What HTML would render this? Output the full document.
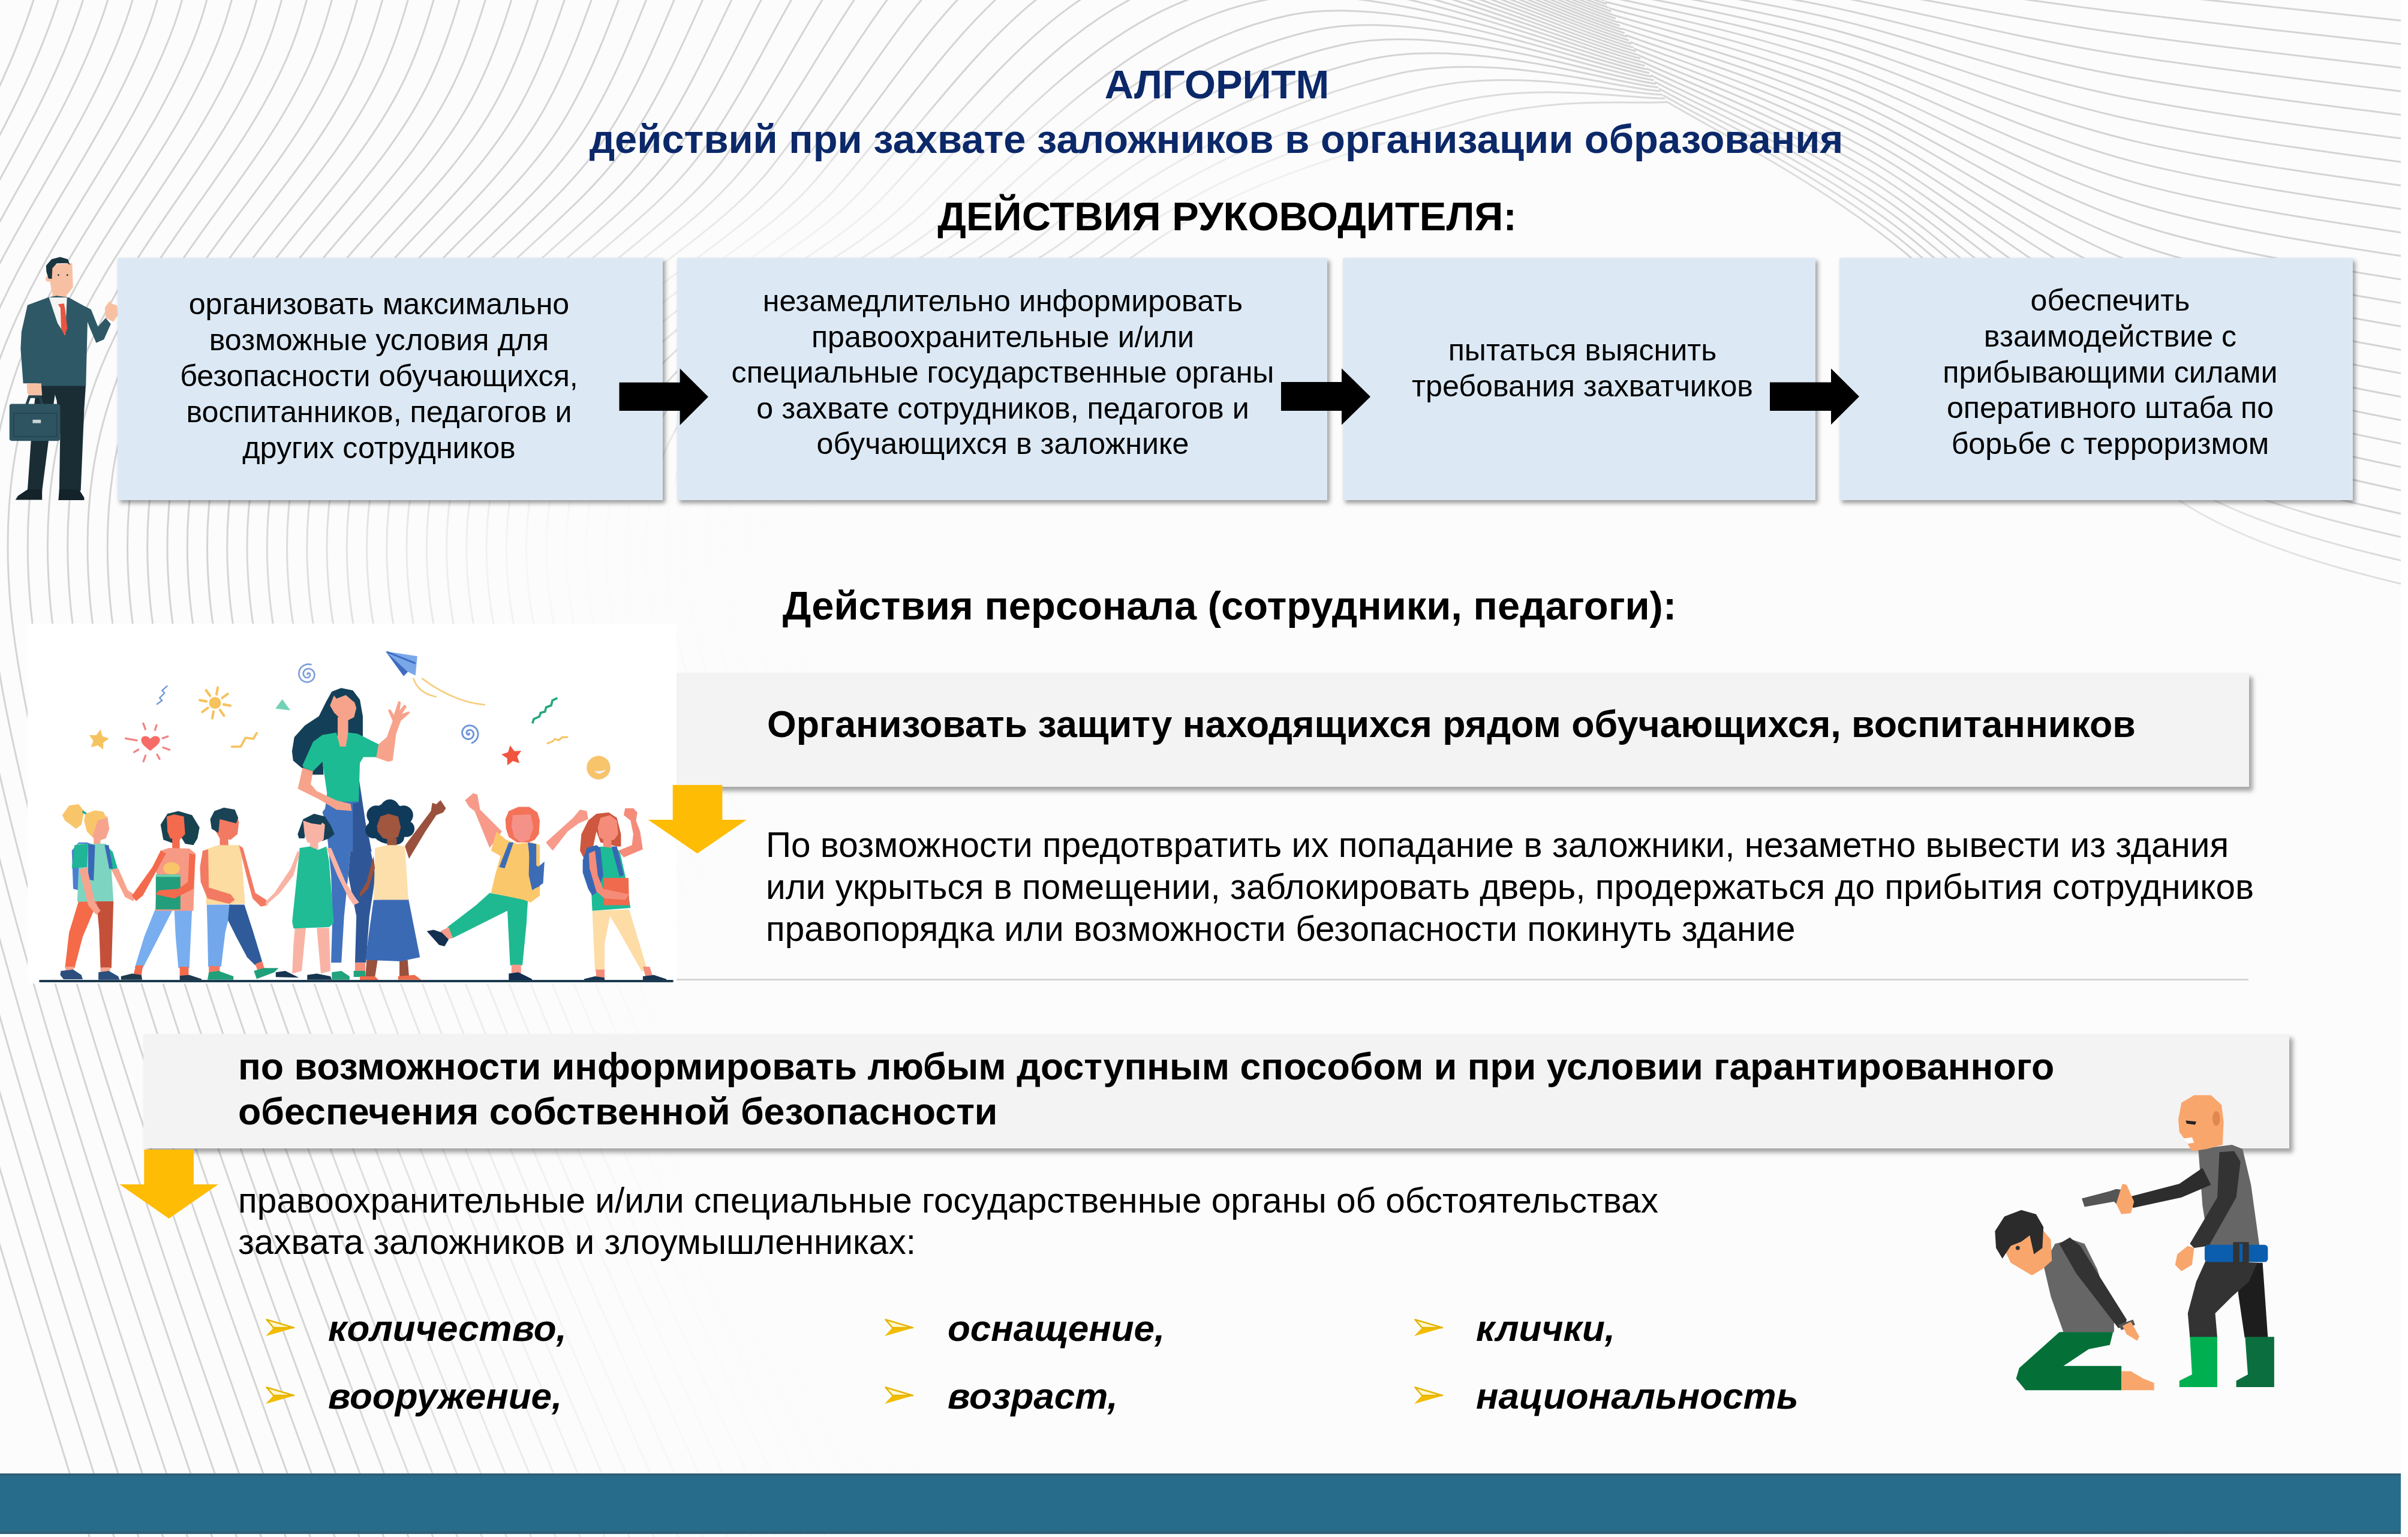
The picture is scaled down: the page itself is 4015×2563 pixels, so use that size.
<!DOCTYPE html>
<html><head><meta charset="utf-8"><style>
html,body{margin:0;padding:0;}
body{width:4015px;height:2563px;position:relative;overflow:hidden;background:#fff;font-family:"Liberation Sans",sans-serif;color:#000;}
.t{position:absolute;white-space:nowrap;}
.r{position:absolute;}
.s{position:absolute;left:0;top:0;}
</style></head><body>
<svg class="s" width="4015" height="2563" viewBox="0 0 4015 2563"><clipPath id="cpbg"><rect x="0" y="0" width="4003" height="2563"/></clipPath><g clip-path="url(#cpbg)"><defs>
<radialGradient id="wm1" cx="2500" cy="1750" r="1" gradientUnits="userSpaceOnUse" gradientTransform="translate(2500 1750) scale(2050 1300) translate(-2500 -1750)">
<stop offset="0" stop-color="#fcfcfc" stop-opacity="1"/><stop offset="0.68" stop-color="#fcfcfc" stop-opacity="1"/><stop offset="0.86" stop-color="#fcfcfc" stop-opacity="0.55"/><stop offset="1" stop-color="#fcfcfc" stop-opacity="0"/></radialGradient>
<radialGradient id="wm2" cx="2250" cy="330" r="1" gradientUnits="userSpaceOnUse" gradientTransform="translate(2250 330) scale(1000 230) translate(-2250 -330)">
<stop offset="0" stop-color="#fcfcfc" stop-opacity="0.9"/><stop offset="1" stop-color="#fcfcfc" stop-opacity="0"/></radialGradient>
<radialGradient id="wm3" cx="1500" cy="940" r="1" gradientUnits="userSpaceOnUse" gradientTransform="translate(1500 940) scale(1150 330) translate(-1500 -940)">
<stop offset="0" stop-color="#fcfcfc" stop-opacity="1"/><stop offset="0.5" stop-color="#fcfcfc" stop-opacity="0.95"/><stop offset="1" stop-color="#fcfcfc" stop-opacity="0"/></radialGradient>
<radialGradient id="wm4" cx="1250" cy="430" r="1" gradientUnits="userSpaceOnUse" gradientTransform="translate(1250 430) rotate(-18) scale(750 190) translate(-1250 -430)">
<stop offset="0" stop-color="#fcfcfc" stop-opacity="0.85"/><stop offset="1" stop-color="#fcfcfc" stop-opacity="0"/></radialGradient>
<radialGradient id="wm5" cx="1550" cy="2350" r="1" gradientUnits="userSpaceOnUse" gradientTransform="translate(1550 2350) scale(1050 520) translate(-1550 -2350)">
<stop offset="0" stop-color="#fcfcfc" stop-opacity="0.95"/><stop offset="0.5" stop-color="#fcfcfc" stop-opacity="0.7"/><stop offset="1" stop-color="#fcfcfc" stop-opacity="0"/></radialGradient>
</defs><rect x="0" y="0" width="4003" height="2557" fill="#fcfcfc"/><g fill="none" stroke="#d4d4d4" stroke-width="3"><path d="M250.0,2900.0 C166.7,2583.3 -217.7,1483.3 -250.0,1000.0 C-282.3,516.7 -52.3,333.3 56.0,0.0 C164.3,-333.3 -24.0,-980.0 400.0,-1000.0 C824.0,-1020.0 2233.3,-266.7 2600.0,-120.0"/><path d="M292.7,2900.0 C207.8,2583.3 -183.6,1481.9 -216.7,1000.0 C-249.7,518.1 -15.5,337.9 94.4,8.8 C204.3,-320.4 24.5,-954.5 442.7,-975.0 C860.9,-995.5 2243.6,-257.5 2603.8,-114.0"/><path d="M335.4,2900.0 C249.0,2583.3 -149.6,1480.4 -183.3,1000.0 C-217.1,519.6 21.4,342.5 132.8,17.5 C244.3,-307.5 73.0,-929.1 485.4,-950.0 C897.9,-970.9 2253.8,-248.3 2607.5,-107.9"/><path d="M378.1,2900.0 C290.1,2583.3 -115.5,1479.0 -150.0,1000.0 C-184.5,521.0 58.2,347.1 171.2,26.2 C284.3,-294.6 121.5,-903.6 528.1,-925.0 C934.8,-946.4 2264.1,-239.1 2611.2,-101.9"/><path d="M420.8,2900.0 C331.2,2583.3 -81.5,1477.5 -116.7,1000.0 C-151.9,522.5 95.1,351.7 209.7,35.0 C324.2,-281.7 169.9,-878.2 570.8,-900.0 C971.7,-921.8 2274.3,-229.9 2615.0,-95.8"/><path d="M463.5,2900.0 C372.4,2583.3 -47.4,1476.0 -83.3,1000.0 C-119.2,524.0 131.9,356.2 248.1,43.8 C364.2,-268.8 218.4,-852.7 613.5,-875.0 C1008.7,-897.3 2284.5,-220.7 2618.8,-89.8"/><path d="M506.2,2900.0 C413.5,2583.3 -13.4,1474.6 -50.0,1000.0 C-86.6,525.4 168.8,360.8 286.5,52.5 C404.2,-255.8 266.9,-827.3 656.2,-850.0 C1045.6,-872.7 2294.8,-211.5 2622.5,-83.8"/><path d="M549.0,2900.0 C454.7,2583.3 20.7,1473.1 -16.7,1000.0 C-54.0,526.9 205.6,365.4 324.9,61.3 C444.2,-242.9 315.4,-801.8 699.0,-825.0 C1082.5,-848.2 2305.0,-202.3 2626.2,-77.7"/><path d="M591.7,2900.0 C495.8,2583.3 54.7,1471.7 16.7,1000.0 C-21.4,528.3 242.5,370.0 363.3,70.0 C484.2,-230.0 363.9,-776.4 741.7,-800.0 C1119.4,-823.6 2315.3,-193.1 2630.0,-71.7"/><path d="M634.4,2900.0 C537.0,2583.3 88.8,1470.2 50.0,1000.0 C11.2,529.8 279.4,374.6 401.8,78.8 C524.1,-217.1 412.4,-750.9 784.4,-775.0 C1156.4,-799.1 2325.5,-183.9 2633.8,-65.6"/><path d="M677.1,2900.0 C578.1,2583.3 122.8,1468.8 83.3,1000.0 C43.8,531.2 316.2,379.2 440.2,87.5 C564.1,-204.2 460.9,-725.5 827.1,-750.0 C1193.3,-774.5 2335.8,-174.7 2637.5,-59.6"/><path d="M719.8,2900.0 C619.3,2583.3 156.9,1467.3 116.7,1000.0 C76.5,532.7 353.1,383.8 478.6,96.2 C604.1,-191.2 509.3,-700.0 869.8,-725.0 C1230.2,-750.0 2346.0,-165.5 2641.2,-53.5"/><path d="M762.5,2900.0 C660.4,2583.3 190.9,1465.8 150.0,1000.0 C109.1,534.2 389.9,388.3 517.0,105.0 C644.1,-178.3 557.8,-674.6 912.5,-700.0 C1267.2,-725.4 2356.2,-156.2 2645.0,-47.5"/><path d="M805.2,2900.0 C701.6,2583.3 225.0,1464.4 183.3,1000.0 C141.7,535.6 426.8,392.9 555.4,113.7 C684.1,-165.4 606.3,-649.1 955.2,-675.0 C1304.1,-700.9 2366.5,-147.0 2648.8,-41.5"/><path d="M847.9,2900.0 C742.7,2583.3 259.0,1462.9 216.7,1000.0 C174.3,537.1 463.6,397.5 593.8,122.5 C724.0,-152.5 654.8,-623.7 997.9,-650.0 C1341.0,-676.3 2376.7,-137.8 2652.5,-35.4"/><path d="M890.6,2900.0 C783.9,2583.3 293.1,1461.5 250.0,1000.0 C206.9,538.5 500.5,402.1 632.2,131.2 C764.0,-139.6 703.3,-598.2 1040.6,-625.0 C1378.0,-651.8 2387.0,-128.6 2656.2,-29.4"/><path d="M933.3,2900.0 C825.0,2583.3 327.1,1460.0 283.3,1000.0 C239.6,540.0 537.3,406.7 670.7,140.0 C804.0,-126.7 751.8,-572.8 1083.3,-600.0 C1414.9,-627.2 2397.2,-119.4 2660.0,-23.3"/><path d="M976.0,2900.0 C866.1,2583.3 361.2,1458.5 316.7,1000.0 C272.2,541.5 574.2,411.2 709.1,148.8 C844.0,-113.8 800.3,-547.3 1126.0,-575.0 C1451.8,-602.7 2407.5,-110.2 2663.8,-17.3"/><path d="M1018.8,2900.0 C907.3,2583.3 395.2,1457.1 350.0,1000.0 C304.8,542.9 611.0,415.8 747.5,157.5 C884.0,-100.8 848.8,-521.9 1168.8,-550.0 C1488.8,-578.1 2417.7,-101.0 2667.5,-11.2"/><path d="M1061.5,2900.0 C948.4,2583.3 429.3,1455.6 383.3,1000.0 C337.4,544.4 647.9,420.4 785.9,166.2 C923.9,-87.9 897.2,-496.4 1211.5,-525.0 C1525.7,-553.6 2428.0,-91.8 2671.2,-5.2"/><path d="M1104.2,2900.0 C989.6,2583.3 463.3,1454.2 416.7,1000.0 C370.0,545.8 684.8,425.0 824.3,175.0 C963.9,-75.0 945.7,-471.0 1254.2,-500.0 C1562.6,-529.0 2438.2,-82.6 2675.0,0.8"/><path d="M1146.9,2900.0 C1030.7,2583.3 497.4,1452.7 450.0,1000.0 C402.6,547.3 721.6,429.6 862.8,183.8 C1003.9,-62.1 994.2,-445.5 1296.9,-475.0 C1599.5,-504.5 2448.4,-73.4 2678.8,6.9"/><path d="M1189.6,2900.0 C1071.9,2583.3 531.4,1451.2 483.3,1000.0 C435.3,548.8 758.5,434.2 901.2,192.5 C1043.9,-49.2 1042.7,-420.1 1339.6,-450.0 C1636.5,-479.9 2458.7,-64.2 2682.5,12.9"/><path d="M1232.3,2900.0 C1113.0,2583.3 565.5,1449.8 516.7,1000.0 C467.9,550.2 795.3,438.8 939.6,201.2 C1083.9,-36.2 1091.2,-394.6 1382.3,-425.0 C1673.4,-455.4 2468.9,-55.0 2686.2,19.0"/><path d="M1275.0,2900.0 C1154.2,2583.3 599.5,1448.3 550.0,1000.0 C500.5,551.7 832.2,443.3 978.0,210.0 C1123.8,-23.3 1139.7,-369.2 1425.0,-400.0 C1710.3,-430.8 2479.2,-45.8 2690.0,25.0"/><path d="M1317.7,2900.0 C1195.3,2583.3 633.5,1446.9 583.3,1000.0 C533.1,553.1 869.0,447.9 1016.4,218.8 C1163.8,-10.4 1188.2,-343.7 1467.7,-375.0 C1747.3,-406.3 2489.4,-36.6 2693.8,31.0"/><path d="M1360.4,2900.0 C1236.5,2583.3 667.6,1445.4 616.7,1000.0 C565.7,554.6 905.9,452.5 1054.8,227.5 C1203.8,2.5 1236.6,-318.3 1510.4,-350.0 C1784.2,-381.7 2499.7,-27.4 2697.5,37.1"/><path d="M1403.1,2900.0 C1277.6,2583.3 701.6,1444.0 650.0,1000.0 C598.4,556.0 942.7,457.1 1093.2,236.2 C1243.8,15.4 1285.1,-292.8 1553.1,-325.0 C1821.1,-357.2 2509.9,-18.2 2701.2,43.1"/><path d="M1445.8,2900.0 C1318.8,2583.3 735.7,1442.5 683.3,1000.0 C631.0,557.5 979.6,461.7 1131.7,245.0 C1283.8,28.3 1333.6,-267.4 1595.8,-300.0 C1858.1,-332.6 2520.1,-9.0 2705.0,49.2"/><path d="M1488.5,2900.0 C1359.9,2583.3 769.7,1441.0 716.7,1000.0 C663.6,559.0 1016.4,466.2 1170.1,253.7 C1323.7,41.2 1382.1,-241.9 1638.5,-275.0 C1895.0,-308.1 2530.4,0.2 2708.8,55.2"/><path d="M1531.2,2900.0 C1401.0,2583.3 803.8,1439.6 750.0,1000.0 C696.2,560.4 1053.3,470.8 1208.5,262.5 C1363.7,54.2 1430.6,-216.5 1681.2,-250.0 C1931.9,-283.5 2540.6,9.4 2712.5,61.2"/><path d="M1574.0,2900.0 C1442.2,2583.3 837.8,1438.1 783.3,1000.0 C728.8,561.9 1090.1,475.4 1246.9,271.2 C1403.7,67.1 1479.1,-191.0 1724.0,-225.0 C1968.8,-259.0 2550.9,18.6 2716.2,67.3"/><path d="M1616.7,2900.0 C1483.3,2583.3 871.9,1436.7 816.7,1000.0 C761.4,563.3 1127.0,480.0 1285.3,280.0 C1443.7,80.0 1527.6,-165.6 1766.7,-200.0 C2005.8,-234.4 2561.1,27.8 2720.0,73.3"/><path d="M1659.4,2900.0 C1524.5,2583.3 905.9,1435.2 850.0,1000.0 C794.1,564.8 1163.9,484.6 1323.8,288.8 C1483.6,92.9 1576.0,-140.1 1809.4,-175.0 C2042.7,-209.9 2571.4,37.0 2723.8,79.4"/><path d="M1702.1,2900.0 C1565.6,2583.3 940.0,1433.8 883.3,1000.0 C826.7,566.2 1200.7,489.2 1362.2,297.5 C1523.6,105.8 1624.5,-114.7 1852.1,-150.0 C2079.6,-185.3 2581.6,46.2 2727.5,85.4"/><path d="M1744.8,2900.0 C1606.8,2583.3 974.0,1432.3 916.7,1000.0 C859.3,567.7 1237.6,493.8 1400.6,306.2 C1563.6,118.8 1673.0,-89.2 1894.8,-125.0 C2116.6,-160.8 2591.8,55.4 2731.2,91.5"/><path d="M1787.5,2900.0 C1647.9,2583.3 1008.1,1430.8 950.0,1000.0 C891.9,569.2 1274.4,498.3 1439.0,315.0 C1603.6,131.7 1721.5,-63.8 1937.5,-100.0 C2153.5,-136.2 2602.1,64.6 2735.0,97.5"/><path d="M1830.2,2900.0 C1689.1,2583.3 1042.1,1429.4 983.3,1000.0 C924.5,570.6 1311.3,502.9 1477.4,323.8 C1643.6,144.6 1770.0,-38.3 1980.2,-75.0 C2190.4,-111.7 2612.3,73.8 2738.8,103.5"/><path d="M1872.9,2900.0 C1730.2,2583.3 1076.2,1427.9 1016.7,1000.0 C957.2,572.1 1348.1,507.5 1515.8,332.5 C1683.5,157.5 1818.5,-12.8 2022.9,-50.0 C2227.4,-87.2 2622.6,83.0 2742.5,109.6"/><path d="M1915.6,2900.0 C1771.4,2583.3 1110.2,1426.5 1050.0,1000.0 C989.8,573.5 1385.0,512.1 1554.2,341.2 C1723.5,170.4 1867.0,12.6 2065.6,-25.0 C2264.3,-62.6 2632.8,92.2 2746.2,115.6"/><path d="M1958.3,2900.0 C1812.5,2583.3 1144.3,1425.0 1083.3,1000.0 C1022.4,575.0 1421.8,516.7 1592.7,350.0 C1763.5,183.3 1915.4,38.1 2108.3,0.0 C2301.2,-38.1 2643.1,101.4 2750.0,121.7"/><path d="M2001.0,2900.0 C1853.6,2583.3 1178.3,1423.5 1116.7,1000.0 C1055.0,576.5 1458.7,521.2 1631.1,358.8 C1803.5,196.2 1963.9,63.5 2151.0,25.0 C2338.2,-13.5 2653.3,110.6 2753.8,127.7"/><path d="M2043.8,2900.0 C1894.8,2583.3 1212.4,1422.1 1150.0,1000.0 C1087.6,577.9 1495.5,525.8 1669.5,367.5 C1843.5,209.2 2012.4,89.0 2193.8,50.0 C2375.1,11.0 2663.5,119.8 2757.5,133.8"/><path d="M2086.5,2900.0 C1935.9,2583.3 1246.4,1420.6 1183.3,1000.0 C1120.2,579.4 1532.4,530.4 1707.9,376.2 C1883.4,222.1 2060.9,114.4 2236.5,75.0 C2412.0,35.6 2673.8,129.0 2761.2,139.8"/><path d="M2129.2,2900.0 C1977.1,2583.3 1280.5,1419.2 1216.7,1000.0 C1152.9,580.8 1569.2,535.0 1746.3,385.0 C1923.4,235.0 2109.4,139.9 2279.2,100.0 C2448.9,60.1 2684.0,138.2 2765.0,145.8"/><path d="M2171.9,2900.0 C2018.2,2583.3 1314.5,1417.7 1250.0,1000.0 C1185.5,582.3 1606.1,539.6 1784.8,393.8 C1963.4,247.9 2157.9,165.3 2321.9,125.0 C2485.9,84.7 2694.3,147.4 2768.8,151.9"/><path d="M2214.6,2900.0 C2059.4,2583.3 1348.6,1416.2 1283.3,1000.0 C1218.1,583.8 1643.0,544.2 1823.2,402.5 C2003.4,260.8 2206.4,190.8 2364.6,150.0 C2522.8,109.2 2704.5,156.6 2772.5,157.9"/><path d="M2257.3,2900.0 C2100.5,2583.3 1382.6,1414.8 1316.7,1000.0 C1250.7,585.2 1679.8,548.8 1861.6,411.2 C2043.4,273.8 2254.8,216.2 2407.3,175.0 C2559.7,133.8 2714.8,165.8 2776.2,164.0"/><path d="M2300.0,2900.0 C2141.7,2583.3 1416.7,1413.3 1350.0,1000.0 C1283.3,586.7 1716.7,553.3 1900.0,420.0 C2083.3,286.7 2303.3,241.7 2450.0,200.0 C2596.7,158.3 2725.0,175.0 2780.0,170.0"/><path d="M2600.0,-120.0 C2666.7,-118.3 2850.0,-115.0 3000.0,-110.0 C3150.0,-105.0 3308.3,-103.3 3500.0,-90.0 C3691.7,-76.7 4041.7,-40.0 4150.0,-30.0"/><path d="M2606.9,-108.8 C2673.4,-105.8 2856.0,-99.5 3005.8,-90.4 C3155.6,-81.2 3315.1,-70.8 3505.8,-54.0 C3696.5,-37.3 4042.6,-0.7 4150.0,10.0"/><path d="M2613.8,-97.7 C2680.1,-93.2 2861.9,-84.0 3011.5,-70.8 C3161.2,-57.5 3321.8,-38.2 3511.5,-18.1 C3701.3,2.1 4043.6,38.7 4150.0,50.0"/><path d="M2620.8,-86.5 C2686.9,-80.6 2867.9,-68.6 3017.3,-51.2 C3166.7,-33.8 3328.5,-5.6 3517.3,17.9 C3706.1,41.4 4044.6,78.0 4150.0,90.0"/><path d="M2627.7,-75.4 C2693.6,-68.1 2873.8,-53.1 3023.1,-31.5 C3172.3,-10.0 3335.3,26.9 3523.1,53.8 C3710.9,80.8 4045.5,117.3 4150.0,130.0"/><path d="M2634.6,-64.2 C2700.3,-55.5 2879.8,-37.6 3028.8,-11.9 C3177.9,13.8 3342.0,59.5 3528.8,89.8 C3715.7,120.1 4046.5,156.6 4150.0,170.0"/><path d="M2641.5,-53.1 C2707.1,-42.9 2885.8,-22.1 3034.6,7.7 C3183.5,37.5 3348.7,92.1 3534.6,125.8 C3720.5,159.5 4047.4,196.0 4150.0,210.0"/><path d="M2648.5,-41.9 C2713.8,-30.4 2891.7,-6.6 3040.4,27.3 C3189.0,61.2 3355.4,124.6 3540.4,161.7 C3725.3,198.8 4048.4,235.3 4150.0,250.0"/><path d="M2655.4,-30.8 C2720.5,-17.8 2897.7,8.8 3046.2,46.9 C3194.6,85.0 3362.2,157.2 3546.2,197.7 C3730.1,238.2 4049.4,274.6 4150.0,290.0"/><path d="M2662.3,-19.6 C2727.2,-5.3 2903.7,24.3 3051.9,66.5 C3200.2,108.8 3368.9,189.7 3551.9,233.7 C3734.9,277.6 4050.3,313.9 4150.0,330.0"/><path d="M2669.2,-8.5 C2734.0,7.3 2909.6,39.8 3057.7,86.2 C3205.8,132.5 3375.6,222.3 3557.7,269.6 C3739.7,316.9 4051.3,353.3 4150.0,370.0"/><path d="M2676.2,2.7 C2740.7,19.9 2915.6,55.3 3063.5,105.8 C3211.3,156.2 3382.4,254.9 3563.5,305.6 C3744.6,356.3 4052.2,392.6 4150.0,410.0"/><path d="M2683.1,13.8 C2747.4,32.4 2921.5,70.8 3069.2,125.4 C3216.9,180.0 3389.1,287.4 3569.2,341.5 C3749.4,395.6 4053.2,431.9 4150.0,450.0"/><path d="M2690.0,25.0 C2754.2,45.0 2927.5,86.2 3075.0,145.0 C3222.5,203.8 3395.8,320.0 3575.0,377.5 C3754.2,435.0 4054.2,471.2 4150.0,490.0"/><path d="M2696.9,36.2 C2760.9,57.6 2933.5,101.7 3080.8,164.6 C3228.1,227.5 3402.6,352.6 3580.8,413.5 C3759.0,474.4 4055.1,510.6 4150.0,530.0"/><path d="M2703.8,47.3 C2767.6,70.1 2939.4,117.2 3086.5,184.2 C3233.7,251.2 3409.3,385.1 3586.5,449.4 C3763.8,513.7 4056.1,549.9 4150.0,570.0"/><path d="M2710.8,58.5 C2774.4,82.7 2945.4,132.7 3092.3,203.8 C3239.2,275.0 3416.0,417.7 3592.3,485.4 C3768.6,553.1 4057.1,589.2 4150.0,610.0"/><path d="M2717.7,69.6 C2781.1,95.3 2951.3,148.2 3098.1,223.5 C3244.8,298.8 3422.8,450.3 3598.1,521.3 C3773.4,592.4 4058.0,628.6 4150.0,650.0"/><path d="M2724.6,80.8 C2787.8,107.8 2957.3,163.7 3103.8,243.1 C3250.4,322.5 3429.5,482.8 3603.8,557.3 C3778.2,631.8 4059.0,667.9 4150.0,690.0"/><path d="M2731.5,91.9 C2794.6,120.4 2963.3,179.1 3109.6,262.7 C3256.0,346.2 3436.2,515.4 3609.6,593.3 C3783.0,671.2 4059.9,707.2 4150.0,730.0"/><path d="M2738.5,103.1 C2801.3,132.9 2969.2,194.6 3115.4,282.3 C3261.5,370.0 3442.9,547.9 3615.4,629.2 C3787.8,710.5 4060.9,746.5 4150.0,770.0"/><path d="M2745.4,114.2 C2808.0,145.5 2975.2,210.1 3121.2,301.9 C3267.1,393.8 3449.7,580.5 3621.2,665.2 C3792.6,749.9 4061.9,785.9 4150.0,810.0"/><path d="M2752.3,125.4 C2814.7,158.1 2981.2,225.6 3126.9,321.5 C3272.7,417.5 3456.4,613.1 3626.9,701.2 C3797.4,789.2 4062.8,825.2 4150.0,850.0"/><path d="M2759.2,136.5 C2821.5,170.6 2987.1,241.1 3132.7,341.2 C3278.3,441.2 3463.1,645.6 3632.7,737.1 C3802.2,828.6 4063.8,864.5 4150.0,890.0"/><path d="M2766.2,147.7 C2828.2,183.2 2993.1,256.5 3138.5,360.8 C3283.8,465.0 3469.9,678.2 3638.5,773.1 C3807.1,867.9 4064.7,903.8 4150.0,930.0"/><path d="M2773.1,158.8 C2834.9,195.8 2999.0,272.0 3144.2,380.4 C3289.4,488.8 3476.6,710.8 3644.2,809.0 C3811.9,907.3 4065.7,943.2 4150.0,970.0"/><path d="M2780.0,170.0 C2841.7,208.3 3005.0,287.5 3150.0,400.0 C3295.0,512.5 3483.3,743.3 3650.0,845.0 C3816.7,946.7 4066.7,982.5 4150.0,1010.0"/></g><rect x="0" y="0" width="4015" height="2563" fill="url(#wm1)"/><rect x="0" y="0" width="4015" height="2563" fill="url(#wm2)"/><rect x="0" y="0" width="4015" height="2563" fill="url(#wm3)"/><rect x="0" y="0" width="4015" height="2563" fill="url(#wm4)"/><rect x="0" y="0" width="4015" height="2563" fill="url(#wm5)"/></g></svg>
<div class="t" style="top:108.4px;font-size:66.9px;line-height:66.9px;font-weight:700;color:#0b2869;left:529.0px;width:3000px;text-align:center;">АЛГОРИТМ</div><div class="t" style="top:199.4px;font-size:66.9px;line-height:66.9px;font-weight:700;color:#0b2869;left:528.0px;width:3000px;text-align:center;">действий при захвате заложников в организации образования</div><div class="t" style="top:328.4px;font-size:66.9px;line-height:66.9px;font-weight:700;left:546.0px;width:3000px;text-align:center;">ДЕЙСТВИЯ РУКОВОДИТЕЛЯ:</div><div class="r" style="left:196px;top:430px;width:909px;height:404px;background:#dce9f5;box-shadow:4px 5px 7px rgba(40,40,40,0.45);"></div><div class="r" style="left:1129px;top:430px;width:1084px;height:404px;background:#dce9f5;box-shadow:4px 5px 7px rgba(40,40,40,0.45);"></div><div class="r" style="left:2239px;top:430px;width:788px;height:404px;background:#dce9f5;box-shadow:4px 5px 7px rgba(40,40,40,0.45);"></div><div class="r" style="left:3067px;top:430px;width:856px;height:404px;background:#dce9f5;box-shadow:4px 5px 7px rgba(40,40,40,0.45);"></div><div class="t" style="top:481.5px;font-size:50.2px;line-height:50.2px;left:-868.0px;width:3000px;text-align:center;">организовать максимально</div><div class="t" style="top:541.5px;font-size:50.2px;line-height:50.2px;left:-868.0px;width:3000px;text-align:center;">возможные условия для</div><div class="t" style="top:601.5px;font-size:50.2px;line-height:50.2px;left:-868.0px;width:3000px;text-align:center;">безопасности обучающихся,</div><div class="t" style="top:661.5px;font-size:50.2px;line-height:50.2px;left:-868.0px;width:3000px;text-align:center;">воспитанников, педагогов и</div><div class="t" style="top:721.5px;font-size:50.2px;line-height:50.2px;left:-868.0px;width:3000px;text-align:center;">других сотрудников</div><div class="t" style="top:477.0px;font-size:50.2px;line-height:50.2px;left:172.0px;width:3000px;text-align:center;">незамедлительно информировать</div><div class="t" style="top:536.6px;font-size:50.2px;line-height:50.2px;left:172.0px;width:3000px;text-align:center;">правоохранительные и/или</div><div class="t" style="top:596.2px;font-size:50.2px;line-height:50.2px;left:172.0px;width:3000px;text-align:center;">специальные государственные органы</div><div class="t" style="top:655.8px;font-size:50.2px;line-height:50.2px;left:172.0px;width:3000px;text-align:center;">о захвате сотрудников, педагогов и</div><div class="t" style="top:715.4px;font-size:50.2px;line-height:50.2px;left:172.0px;width:3000px;text-align:center;">обучающихся в заложнике</div><div class="t" style="top:559.0px;font-size:50.2px;line-height:50.2px;left:1138.5px;width:3000px;text-align:center;">пытаться выяснить</div><div class="t" style="top:618.6px;font-size:50.2px;line-height:50.2px;left:1138.5px;width:3000px;text-align:center;">требования захватчиков</div><div class="t" style="top:476.0px;font-size:50.2px;line-height:50.2px;left:2018.5px;width:3000px;text-align:center;">обеспечить</div><div class="t" style="top:535.8px;font-size:50.2px;line-height:50.2px;left:2018.5px;width:3000px;text-align:center;">взаимодействие с</div><div class="t" style="top:595.6px;font-size:50.2px;line-height:50.2px;left:2018.5px;width:3000px;text-align:center;">прибывающими силами</div><div class="t" style="top:655.4px;font-size:50.2px;line-height:50.2px;left:2018.5px;width:3000px;text-align:center;">оперативного штаба по</div><div class="t" style="top:715.2px;font-size:50.2px;line-height:50.2px;left:2018.5px;width:3000px;text-align:center;">борьбе с терроризмом</div><div class="t" style="top:976.9px;font-size:66.9px;line-height:66.9px;font-weight:700;left:550.0px;width:3000px;text-align:center;">Действия персонала (сотрудники, педагоги):</div><div class="r" style="left:1127px;top:1122px;width:2623px;height:190px;background:#f3f3f3;box-shadow:6px 7px 7px rgba(60,60,60,0.45);"></div><div class="t" style="top:1176.4px;font-size:62.7px;line-height:62.7px;font-weight:700;left:1279.0px;">Организовать защиту находящихся рядом обучающихся, воспитанников</div><div class="t" style="top:1379.5px;font-size:58.5px;line-height:58.5px;left:1277.0px;">По возможности предотвратить их попадание в заложники, незаметно вывести из здания</div><div class="t" style="top:1449.5px;font-size:58.5px;line-height:58.5px;left:1277.0px;">или укрыться в помещении, заблокировать дверь, продержаться до прибытия сотрудников</div><div class="t" style="top:1519.5px;font-size:58.5px;line-height:58.5px;left:1277.0px;">правопорядка или возможности безопасности покинуть здание</div><div class="r" style="left:1121px;top:1632px;width:2628px;height:3px;background:#d6d6d6;"></div><div class="r" style="left:239px;top:1724px;width:3578px;height:191px;background:#f3f3f3;box-shadow:6px 7px 7px rgba(60,60,60,0.45);"></div><div class="t" style="top:1747.4px;font-size:62.7px;line-height:62.7px;font-weight:700;left:397.0px;">по возможности информировать любым доступным способом и при условии гарантированного</div><div class="t" style="top:1822.4px;font-size:62.7px;line-height:62.7px;font-weight:700;left:397.0px;">обеспечения собственной безопасности</div><div class="t" style="top:1972.5px;font-size:58.5px;line-height:58.5px;left:397.0px;">правоохранительные и/или специальные государственные органы об обстоятельствах</div><div class="t" style="top:2041.5px;font-size:58.5px;line-height:58.5px;left:397.0px;">захвата заложников и злоумышленниках:</div><div class="t" style="top:2183.5px;font-size:62px;line-height:62px;font-weight:700;font-style:italic;left:547.0px;">количество,</div><div class="t" style="top:2296.5px;font-size:62px;line-height:62px;font-weight:700;font-style:italic;left:547.0px;">вооружение,</div><div class="t" style="top:2183.5px;font-size:62px;line-height:62px;font-weight:700;font-style:italic;left:1580.0px;">оснащение,</div><div class="t" style="top:2296.5px;font-size:62px;line-height:62px;font-weight:700;font-style:italic;left:1580.0px;">возраст,</div><div class="t" style="top:2183.5px;font-size:62px;line-height:62px;font-weight:700;font-style:italic;left:2461.0px;">клички,</div><div class="t" style="top:2296.5px;font-size:62px;line-height:62px;font-weight:700;font-style:italic;left:2461.0px;">национальность</div><div class="r" style="left:0px;top:2457px;width:4003px;height:101px;background:#276d8b;border-top:4px solid #2f5e77;border-bottom:5px solid #32607a;box-sizing:border-box;"></div>
<svg class="s" width="4015" height="2563" viewBox="0 0 4015 2563"><rect x="46" y="1040" width="1082" height="600" fill="#ffffff"/><g transform="translate(100,1060) scale(0.207641)"><polyline points="780,550 820,520 800,500 840,460 820,440 860,405" fill="none" stroke="#6d95d8" stroke-width="11" stroke-linejoin="round" stroke-linecap="round"/><circle cx="1245" cy="540" r="48" fill="#f6c25e"/><g stroke="#f6c25e" stroke-width="20" stroke-linecap="round"><line x1="1314" y1="552" x2="1368" y2="562"/><line x1="1285" y1="597" x2="1317" y2="642"/><line x1="1233" y1="609" x2="1223" y2="663"/><line x1="1188" y1="580" x2="1143" y2="612"/><line x1="1176" y1="528" x2="1122" y2="518"/><line x1="1205" y1="483" x2="1173" y2="438"/><line x1="1257" y1="471" x2="1267" y2="417"/><line x1="1302" y1="500" x2="1347" y2="468"/></g><polygon points="1730,585 1785,510 1850,600" fill="#72d1b6" /><polyline points="1990.0,310.0 1989.4,309.9 1988.8,309.8 1988.3,309.4 1987.8,309.0 1987.4,308.5 1987.1,307.9 1986.9,307.2 1986.8,306.5 1986.9,305.7 1987.0,304.9 1987.3,304.0 1987.8,303.2 1988.4,302.4 1989.1,301.7 1990.0,301.1 1991.0,300.5 1992.1,300.1 1993.3,299.8 1994.6,299.7 1995.9,299.7 1997.3,299.9 1998.7,300.3 2000.2,300.9 2001.5,301.6 2002.9,302.6 2004.1,303.7 2005.3,305.0 2006.3,306.5 2007.1,308.2 2007.8,310.0 2008.3,311.9 2008.6,314.0 2008.6,316.1 2008.5,318.2 2008.0,320.4 2007.3,322.6 2006.3,324.7 2005.1,326.8 2003.6,328.7 2001.9,330.6 1999.9,332.3 1997.7,333.7 1995.3,335.0 1992.7,336.0 1990.0,336.7 1987.1,337.2 1984.2,337.3 1981.2,337.1 1978.2,336.6 1975.1,335.7 1972.2,334.5 1969.3,333.0 1966.6,331.1 1964.0,328.9 1961.7,326.3 1959.6,323.5 1957.8,320.5 1956.3,317.2 1955.1,313.7 1954.3,310.0 1954.0,306.2 1954.0,302.3 1954.4,298.4 1955.3,294.5 1956.6,290.7 1958.3,286.9 1960.4,283.4 1963.0,280.0 1965.9,276.8 1969.2,274.0 1972.8,271.5 1976.8,269.3 1981.0,267.6 1985.4,266.3 1990.0,265.4 1994.7,265.1 1999.5,265.2 2004.3,265.9 2009.1,267.1 2013.8,268.8 2018.3,271.1 2022.6,273.8 2026.7,277.0 2030.4,280.7 2033.7,284.7 2036.7,289.2 2039.2,294.0 2041.1,299.1 2042.6,304.5 2043.5,310.0 2043.8,315.7 2043.5,321.4 2042.6,327.1 2041.0,332.7 2038.9,338.2 2036.1,343.5 2032.8,348.6 2029.0,353.3 2024.6,357.6 2019.7,361.5 2014.4,364.8 2008.7,367.6 2002.7,369.9 1996.5,371.5 1990.0,372.4 1983.4,372.6 1976.8,372.2 1970.2,371.0 1963.7,369.2 1957.3,366.6 1951.2,363.4 1945.5,359.5 1940.1,354.9 1935.2,349.8 1930.8,344.2 1927.0,338.0 1923.9,331.5 1921.4,324.6 1919.7,317.4 1918.7,310.0 1918.5,302.5 1919.1,294.9 1920.5,287.4 1922.7,280.0 1925.7,272.9 1929.4,266.0 1933.9,259.5 1939.1,253.5 1944.9,248.0 1951.4,243.1 1958.3,238.9 1965.8,235.4 1973.6,232.7 1981.7,230.8 1990.0,229.8 1998.4,229.6 2006.9,230.4 2015.3,232.0" fill="none" stroke="#7f9fdc" stroke-width="13" stroke-linecap="round"/><polygon points="325,754 341,808 394,826 348,858 347,914 303,880 249,897 268,844 235,798 291,800" fill="#f6c25e" stroke-linejoin="round"/><path d="M725,925 C690,895 650,870 652,835 C655,800 705,795 725,830 C745,795 800,800 803,835 C805,870 760,895 725,925Z" fill="#f56d66"/><g stroke="#f08585" stroke-width="16" stroke-linecap="round"><line x1="686" y1="752" x2="669" y2="705"/><line x1="763" y1="757" x2="776" y2="719"/><line x1="824" y1="824" x2="866" y2="809"/><line x1="828" y1="898" x2="880" y2="916"/><line x1="780" y1="955" x2="800" y2="990"/><line x1="687" y1="963" x2="670" y2="1010"/><line x1="630" y1="915" x2="595" y2="935"/><line x1="617" y1="841" x2="528" y2="825"/></g><polyline points="1380,892 1452,890 1490,820 1552,828 1580,782" fill="none" stroke="#f6c25e" stroke-width="18" stroke-linejoin="round" stroke-linecap="round"/></g><g transform="translate(620,1060) scale(0.207641)"><polygon points="110,125 365,165 350,320 290,290" fill="#7aa7e8" /><polygon points="110,125 290,290 255,325" fill="#3d6cc0" /><line x1="120" y1="130" x2="350" y2="222" stroke="#3d6cc0" stroke-width="14"/><path d="M335,345 Q370,460 515,490" fill="none" stroke="#f6cd7e" stroke-width="13" stroke-linecap="round"/><path d="M405,345 Q650,530 905,555" fill="none" stroke="#f6cd7e" stroke-width="13" stroke-linecap="round"/><polyline points="780.0,785.0 780.6,785.1 781.2,785.3 781.7,785.6 782.2,786.0 782.6,786.5 782.9,787.1 783.2,787.8 783.2,788.6 783.2,789.4 783.0,790.2 782.7,791.1 782.2,791.9 781.6,792.7 780.9,793.4 780.0,794.1 779.0,794.6 777.9,795.1 776.6,795.4 775.3,795.5 773.9,795.5 772.5,795.3 771.1,794.9 769.6,794.3 768.2,793.5 766.9,792.6 765.6,791.4 764.4,790.1 763.4,788.5 762.5,786.8 761.8,785.0 761.3,783.0 761.0,781.0 761.0,778.8 761.2,776.6 761.6,774.4 762.3,772.2 763.3,770.0 764.6,767.9 766.1,765.9 767.9,764.0 769.9,762.3 772.1,760.8 774.6,759.5 777.2,758.5 780.0,757.7 782.9,757.3 785.9,757.1 789.0,757.3 792.1,757.9 795.2,758.8 798.2,760.0 801.1,761.6 803.9,763.5 806.5,765.8 808.9,768.3 811.0,771.2 812.9,774.3 814.4,777.7 815.6,781.3 816.4,785.0 816.8,788.9 816.8,792.8 816.3,796.8 815.4,800.8 814.1,804.7 812.4,808.5 810.2,812.2 807.6,815.6 804.6,818.8 801.2,821.7 797.5,824.3 793.5,826.5 789.2,828.3 784.7,829.6 780.0,830.5 775.2,830.8 770.3,830.6 765.4,830.0 760.5,828.7 755.8,827.0 751.1,824.7 746.7,821.9 742.6,818.7 738.8,814.9 735.4,810.8 732.4,806.2 729.9,801.3 727.8,796.1 726.4,790.6 725.5,785.0 725.2,779.2 725.5,773.4 726.4,767.6 728.0,761.8 730.1,756.2 732.9,750.8 736.3,745.7 740.3,740.9 744.7,736.5 749.7,732.5 755.1,729.1 760.9,726.2 767.0,723.9 773.4,722.3 780.0,721.4 786.7,721.1 793.5,721.6 800.2,722.7 806.9,724.7 813.3,727.3 819.5,730.6 825.4,734.6 830.9,739.2 835.9,744.4 840.4,750.2 844.2,756.4 847.4,763.1 850.0,770.1 851.7,777.5 852.7,785.0 852.9,792.7 852.3,800.4 850.9,808.0 848.7,815.6 845.6,822.9 841.8,829.9 837.2,836.5 831.9,842.7 826.0,848.3 819.4,853.2 812.3,857.5 804.7,861.1" fill="none" stroke="#6d95d8" stroke-width="14" stroke-linecap="round"/><polyline points="1290,705 1300,670 1345,650 1355,620 1390,610 1400,575 1440,560 1450,520 1490,500" fill="none" stroke="#27a880" stroke-width="18" stroke-linejoin="miter"/><polygon points="1110,881 1144,927 1200,925 1167,971 1186,1024 1132,1007 1088,1041 1087,985 1041,953 1094,935" fill="#f0553e" stroke-linejoin="round"/><polyline points="1410,865 1450,850 1470,830 1500,840 1530,815 1570,815" fill="none" stroke="#f6c25e" stroke-width="14" stroke-linejoin="round" stroke-linecap="round"/><circle cx="1820" cy="1060" r="95" fill="#f7c46b"/><path d="M1785,1085 Q1830,1135 1880,1075 Q1830,1095 1785,1085Z" fill="#eef0f8"/></g><g transform="translate(330,1300) scale(0.227790)"><polygon points="958,0 1135,0 1125,400 1100,700 1070,1000 1050,1340 975,1340 985,1000 975,700 950,450 925,250 940,150" fill="#4172bd" /><polygon points="1132,0 1180,0 1240,400 1300,700 1255,1000 1230,1340 1150,1340 1160,1000 1100,700 1125,400" fill="#2f5798" /><polygon points="1150,1340 1225,1340 1225,1405 1150,1405" fill="#f58f7b" /><polygon points="1140,1400 1225,1400 1225,1445 1140,1445" fill="#22a37d" /><polygon points="980,1410 1050,1400 1110,1440 1110,1465 980,1465" fill="#22a37d" /></g><g transform="translate(440,1120) scale(0.195185)"><polygon points="240,680 260,560 350,460 470,380 530,260 580,170 660,140 760,160 820,240 845,380 845,560 740,530 560,560 500,700 510,880 420,880 320,820 250,760" fill="#143f58" /><polygon points="500,1200 560,1120 810,1110 780,1537 600,1537" fill="#4172bd" /><polygon points="760,1130 820,1110 900,1430 920,1537 760,1537" fill="#2f5798" /><polygon points="630,390 720,390 720,560 710,640 640,640 630,560" fill="#f7a38b" /><polygon points="565,290 600,200 680,180 760,220 790,310 770,390 710,420 650,400 600,350" fill="#f7a38b" /><polygon points="580,180 660,150 760,170 800,230 770,260 700,200 620,230" fill="#143f58" /><polygon points="950,730 980,620 1050,560 1100,420 1060,330 1080,320 1110,370 1150,250 1170,260 1160,330 1200,280 1220,300 1180,360 1240,340 1245,355 1170,420 1130,530 1100,760 1060,770" fill="#f7a38b" /><polygon points="330,800 420,600 500,540 620,520 650,640 700,640 720,520 800,530 980,620 960,730 850,730 820,780 810,1110 550,1110 500,770 420,850 340,820" fill="#1dbb94" /><polygon points="330,820 420,850 400,960 450,1020 620,1100 740,1130 750,1190 620,1180 470,1090 290,1000" fill="#f7a38b" /></g><g transform="translate(40,1300) scale(0.227790)"><polygon points="350,520 400,460 460,460 520,480 510,740 470,730 400,810 360,800" fill="#4b7fd2" /><polygon points="280,260 330,190 400,180 440,230 420,330 380,360 300,300" fill="#f9c56a" /><polygon points="430,225 470,250 460,265 425,240" fill="#22b08c" /><polygon points="510,430 560,430 560,480 510,480" fill="#f7a48e" /><polygon points="520,290 610,270 625,360 600,430 540,450 500,420" fill="#f7a48e" /><polygon points="450,250 520,225 580,235 605,280 540,300 500,420 460,380 440,300" fill="#f9c56a" /><polygon points="400,890 540,890 430,1150 370,1380 300,1380 330,1120" fill="#f56a48" /><polygon points="530,890 655,890 640,1380 560,1380 550,1100" fill="#c4503a" /><polygon points="395,470 600,470 640,530 640,660 655,890 390,895 400,650" fill="#7dd4c0" /><polygon points="370,480 470,470 460,640 350,650" fill="#1fb596" /><polygon points="600,480 650,530 685,650 640,660" fill="#1fb596" /><polygon points="470,470 520,480 510,740 470,730" fill="#3a68b8" /><polygon points="590,480 620,480 650,650 625,655" fill="#3a68b8" /><polygon points="405,660 460,640 520,900 560,960 530,990 470,920" fill="#f7a48e" /><polygon points="640,660 690,650 760,810 820,850 800,890 740,860" fill="#f7a48e" /><polygon points="300,1370 365,1370 360,1410 310,1410" fill="#f7a48e" /><polygon points="560,1375 630,1375 630,1415 560,1415" fill="#f7a48e" /><polygon points="270,1400 360,1390 420,1430 430,1462 290,1462 265,1430" fill="#2b4e7d" /><polygon points="545,1410 620,1400 690,1440 700,1465 545,1465" fill="#2b4e7d" /><polygon points="1000,330 1050,250 1130,230 1230,260 1285,350 1270,430 1240,480 1180,470 1150,420 1100,470 1020,440" fill="#17424f" /><polygon points="1085,430 1140,430 1140,510 1085,510" fill="#f46a4c" /><polygon points="1045,270 1100,255 1170,270 1180,400 1140,440 1070,430 1050,380" fill="#f46a4c" /><polygon points="960,950 1090,950 870,1380 810,1380 880,1150" fill="#78aef0" /><polygon points="1100,950 1230,950 1210,1380 1130,1380 1110,1150" fill="#78aef0" /><polygon points="1000,520 1060,500 1210,505 1255,540 1240,960 960,960 975,700 960,650" fill="#f79a85" /><ellipse cx="1080" cy="650" rx="60" ry="45" fill="#f9c56a"/><polygon points="1000,520 1040,540 870,850 820,890 790,850 940,640" fill="#f46a4c" /><polygon points="965,695 1145,695 1145,950 965,950" fill="#229e7c" /><polygon points="965,695 1145,695 1145,712 965,712" fill="#6fd0b0" /><polygon points="1210,540 1255,550 1240,800 1100,870 960,840 990,810 1130,800 1200,750" fill="#f46a4c" /><polygon points="820,1360 870,1360 860,1430 800,1430" fill="#f46a4c" /><polygon points="1140,1370 1205,1370 1205,1435 1140,1435" fill="#f46a4c" /><polygon points="710,1440 790,1420 860,1430 865,1465 710,1465" fill="#1f3a4e" /><polygon points="1140,1435 1210,1430 1300,1460 1300,1470 1140,1470" fill="#1f3a4e" /></g><g transform="translate(330,1300) scale(0.227790)"><polygon points="160,420 220,420 225,500 160,500" fill="#f37a62" /><polygon points="120,260 280,250 300,310 290,400 240,440 160,430 130,380" fill="#f37a62" /><polygon points="90,290 120,230 190,205 270,220 295,280 280,320 160,290 150,390 100,360" fill="#1a4356" /><polygon points="65,915 250,915 200,1120 170,1370 75,1370 70,1100" fill="#72a7ec" /><polygon points="230,915 340,915 400,1100 470,1330 420,1360 360,1300 280,1150 220,1030" fill="#2f5b9a" /><polygon points="60,510 150,480 300,480 320,560 345,910 60,915" fill="#fcdca0" /><polygon points="35,520 75,510 80,790 240,840 270,880 230,910 70,870 20,750 15,640" fill="#f37a62" /><polygon points="300,480 330,500 420,830 500,880 510,920 460,930 400,870 370,760" fill="#f37a62" /><polygon points="80,1365 160,1365 160,1415 80,1415" fill="#f37a62" /><polygon points="420,1350 470,1330 490,1390 440,1410" fill="#f37a62" /><polygon points="80,1410 150,1400 260,1440 260,1465 70,1465" fill="#1fa07a" /><polygon points="410,1400 480,1380 590,1380 560,1410 430,1460" fill="#1fa07a" /><polygon points="730,400 770,290 850,250 930,270 975,340 1000,400 960,430 910,450 870,350 800,330 780,430 740,430" fill="#163f55" /><polygon points="820,450 880,450 880,510 820,510" fill="#f9b3a5" /><polygon points="770,300 880,290 930,330 920,440 870,470 800,460 780,400" fill="#f9b3a5" /><polygon points="770,300 850,262 930,285 900,330 830,320" fill="#163f55" /><polygon points="710,1085 790,1085 760,1400 690,1420 700,1200" fill="#f9b3a5" /><polygon points="870,1085 960,1085 970,1400 900,1420 880,1200" fill="#f9b3a5" /><polygon points="745,500 820,490 880,515 940,490 960,600 995,1050 960,1080 700,1090 690,1040 725,700" fill="#1fbc95" /><polygon points="745,540 700,700 600,830 520,900 490,930 500,890 560,830 680,650 730,520" fill="#f9b3a5" /><polygon points="940,500 975,500 1080,750 1150,860 1180,900 1140,920 1100,860 1020,700" fill="#f9b3a5" /><polygon points="570,1410 640,1400 700,1430 740,1450 570,1445" fill="#163450" /><polygon points="800,1430 870,1420 970,1440 980,1465 800,1465" fill="#163450" /></g><g transform="translate(600,1300) scale(0.227790)"><circle cx="215" cy="320" r="150" fill="#103a5a"/><circle cx="120" cy="260" r="70" fill="#103a5a"/><circle cx="220" cy="215" r="70" fill="#103a5a"/><circle cx="320" cy="260" r="70" fill="#103a5a"/><circle cx="340" cy="360" r="60" fill="#103a5a"/><circle cx="100" cy="370" r="60" fill="#103a5a"/><circle cx="270" cy="420" r="55" fill="#103a5a"/><polygon points="200,430 270,430 270,510 200,510" fill="#9a533d" /><polygon points="125,340 150,270 210,250 280,270 300,350 280,420 230,440 170,430 130,380" fill="#a0563f" /><polygon points="330,490 360,580 480,380 560,260 610,240 630,210 590,150 560,180 530,170 520,230 430,350 340,470" fill="#99513d" /><polygon points="50,1320 130,1320 110,1450 40,1450" fill="#99513d" /><polygon points="290,1320 350,1320 360,1440 290,1440" fill="#99513d" /><polygon points="100,880 355,870 440,1300 300,1330 40,1320" fill="#3b6ab5" /><polygon points="110,500 200,480 280,480 330,490 355,880 100,880 110,600" fill="#fddfac" /><polygon points="100,560 110,650 60,800 0,860 0,830 50,750" fill="#99513d" /><polygon points="0,1440 110,1440 140,1470 0,1470" fill="#ef6a4b" /><polygon points="280,1440 400,1430 450,1465 280,1465" fill="#ef6a4b" /><polygon points="950,500 1040,380 880,220 860,110 830,100 770,150 800,200 840,230" fill="#f79a8a" /><polygon points="950,830 1230,880 1220,1050 1190,1360 1100,1360 1080,960 700,1150 680,1160 640,1080 850,920" fill="#1fb991" /><polygon points="590,1110 650,1080 680,1160 640,1170" fill="#f79a8a" /><polygon points="490,1110 540,1100 600,1120 650,1170 620,1220 580,1210" fill="#142f4f" /><polygon points="1110,1355 1180,1355 1180,1420 1110,1420" fill="#f79a8a" /><polygon points="1090,1420 1160,1410 1260,1460 1260,1475 1090,1475" fill="#142f4f" /><polygon points="1000,380 1070,440 1150,470 1260,460 1317,480 1317,850 1250,900 1200,880 960,830 990,700 1030,560 960,520" fill="#fbc76b" /><polygon points="1020,640 1090,460 1125,460 1060,650" fill="#3d6cb6" /><polygon points="1230,460 1280,470 1260,600 1317,650 1317,780 1270,800 1245,600" fill="#3d6cb6" /><polygon points="1065,290 1090,230 1160,200 1240,200 1300,240 1317,300 1310,400 1280,440 1240,460 1150,460 1090,420 1070,360" fill="#f47258" /><polygon points="1120,260 1250,255 1270,350 1240,440 1180,460 1130,420 1110,340" fill="#f4928a" /></g><g transform="translate(860,1300) scale(0.227790)"><polygon points="220,460 270,520 380,380 460,320 530,290 520,230 470,220 420,280 330,360" fill="#f79a8a" /><polygon points="100,470 150,470 150,650 210,600 200,760 120,810 95,700" fill="#3d6cb6" /><polygon points="470,520 480,400 530,300 590,250 680,240 740,280 770,400 770,490 740,490 620,460 590,380 560,520 500,580" fill="#cd573f" /><polygon points="640,430 700,430 700,500 640,500" fill="#f58c7a" /><polygon points="600,350 620,280 690,260 740,300 750,400 720,440 660,450 610,420" fill="#f58c7a" /><polygon points="560,960 830,950 950,1350 970,1400 920,1400 750,1100 690,1000 650,1200 650,1400 580,1400 570,1200" fill="#fddca6" /><polygon points="540,540 620,490 710,500 760,520 800,700 840,940 560,960 550,750" fill="#1dbb96" /><polygon points="490,590 520,500 590,480 620,500 640,700 600,820 560,850 530,800 490,680" fill="#3767b3" /><polygon points="700,490 740,490 790,700 760,710" fill="#3767b3" /><polygon points="645,720 825,720 830,920 645,920" fill="#f06a4e" /><polygon points="535,540 580,520 600,700 640,800 780,830 830,840 800,880 650,870 590,820 540,650" fill="#f58c7a" /><polygon points="750,520 790,570 930,510 910,380 880,300 890,240 860,210 800,210 790,260 840,300 860,400 850,480" fill="#f58c7a" /><polygon points="585,1390 650,1390 650,1450 590,1450" fill="#f58c7a" /><polygon points="930,1370 980,1370 1000,1430 950,1440" fill="#f58c7a" /><polygon points="500,1460 580,1440 650,1450 650,1472 500,1472" fill="#183453" /><polygon points="930,1440 1010,1430 1100,1460 1110,1472 930,1472" fill="#183453" /></g><rect x="65" y="1634" width="1058" height="4" rx="2" fill="#1d3a4e"/><g transform="translate(0,410) scale(0.286458)"><polygon points="215,800 330,800 300,1000 245,1425 160,1425 190,1000" fill="#1b2d34" /><polygon points="300,800 500,800 490,950 470,1425 345,1425 350,1100 330,900" fill="#1b2d34" /><polygon points="160,1418 245,1418 245,1478 90,1478 105,1455" fill="#14222a" /><polygon points="345,1418 460,1418 490,1465 490,1480 340,1480" fill="#14222a" /><polygon points="305,230 385,230 390,320 305,320" fill="#f8c0a3" /><polygon points="160,345 280,300 330,290 400,300 480,345 510,420 500,815 230,815 215,800 135,800 120,600 125,500" fill="#2f5866" /><polygon points="470,340 520,470 560,565 605,545 645,455 615,420 570,470 530,370" fill="#2f5866" /><polygon points="285,300 390,300 380,520 335,450" fill="#f4f4f4" /><polygon points="338,340 372,335 378,362 392,480 376,522 356,482 352,362" fill="#e8553f" /><polygon points="285,110 420,100 425,240 395,280 340,292 300,262 290,200" fill="#f8c0a3" /><circle cx="282" cy="192" r="17" fill="#f8c0a3"/><polygon points="268,115 300,78 350,65 395,78 408,112 392,100 330,102 305,130 302,192 282,190 270,150" fill="#1b3640" /><circle cx="340" cy="170" r="5" fill="#1b3640"/><circle cx="392" cy="170" r="5" fill="#1b3640"/><polygon points="615,420 610,360 638,320 650,335 682,348 686,402 660,442" fill="#f8c0a3" /><polygon points="155,800 240,800 245,870 200,885 160,860" fill="#f8c0a3" /><path d="M155,925 L172,878 L232,878 L246,925" fill="none" stroke="#24434d" stroke-width="16"/><rect x="55" y="920" width="295" height="215" rx="14" fill="#2e5462"/><rect x="80" y="975" width="250" height="135" fill="none" stroke="#24434d" stroke-width="6"/><rect x="190" y="1012" width="48" height="20" fill="#c9d3d6"/></g><g transform="translate(3300,1800) scale(0.351351)"><polygon points="1220,870 1345,870 1370,1225 1260,1225 1230,1020" fill="#1d1d1d" /><polygon points="1075,860 1320,870 1280,960 1200,1030 1120,1110 1130,1225 1000,1225 990,1110 1030,960" fill="#333333" /><polygon points="1000,1222 1130,1222 1130,1460 950,1460 950,1430 1010,1400" fill="#00b050" /><polygon points="1262,1222 1400,1222 1400,1460 1220,1460 1220,1430 1275,1400" fill="#0b6e3e" /><polygon points="1040,330 1200,310 1250,330 1290,500 1330,790 1090,790 1060,600" fill="#666666" /><polygon points="1140,345 1210,340 1240,390 1220,560 1090,790 1020,800 1000,780 1130,560" fill="#333333" /><polygon points="1060,420 1100,500 960,560 730,610 720,555 950,495" fill="#2d2d2d" /><polygon points="990,790 1020,800 1010,880 960,910 930,880 940,830" fill="#f9a66c" /><rect x="1070" y="785" width="300" height="82" rx="16" fill="#0b5eae"/><polygon points="1205,772 1280,772 1280,870 1205,870" fill="#333333" /><polygon points="1235,780 1250,780 1250,865 1235,865" fill="#0b5eae" /><polygon points="487,565 620,530 650,520 690,525 700,580 660,600 640,580 500,605" fill="#555555" /><polygon points="680,495 700,500 735,580 720,635 675,640 650,590" fill="#f9a66c" /><polygon points="960,110 1020,75 1100,75 1150,120 1160,200 1155,310 1080,330 1010,340 980,290 950,250 945,190" fill="#f9a66c" /><ellipse cx="1125" cy="185" rx="18" ry="35" fill="#e08850"/><polygon points="980,195 1030,200 1025,215 985,210" fill="#222" /><polygon points="970,280 1010,275 1020,300 990,305" fill="#ffffff" /><polygon points="380,1200 640,1180 620,1260 520,1280 400,1360 675,1360 675,1475 220,1475 175,1420 190,1370" fill="#047038" /><polygon points="675,1385 720,1385 780,1420 830,1440 830,1475 675,1475" fill="#f9a66c" /><polygon points="305,880 360,780 440,760 500,780 560,900 640,1140 640,1200 400,1200 340,1030" fill="#666666" /><polygon points="380,780 430,750 480,790 700,1140 690,1175 660,1180 460,920" fill="#333333" /><polygon points="660,1165 730,1140 740,1165 675,1190" fill="#555" /><polygon points="680,1170 720,1150 760,1220 750,1240 700,1210" fill="#f9a66c" /><polygon points="130,760 200,680 290,700 340,760 345,860 300,900 250,930 200,900 150,870 125,820" fill="#f9a66c" /><polygon points="75,720 120,650 200,620 270,640 305,700 300,800 260,830 240,740 200,770 150,790 110,850 80,800" fill="#2b2b2b" /><circle cx="183" cy="800" r="10" fill="#333"/></g></svg>
<svg class="s" width="4015" height="2563" viewBox="0 0 4015 2563"><polygon points="1032.5,637.8 1133.6,637.8 1133.6,614.4 1181,661.7 1133.6,709 1133.6,685 1032.5,685" fill="#000"/><polygon points="2136,637 2237,637 2237,614.2 2285,661.4000000000001 2237,708.6 2237,685 2136,685" fill="#000"/><polygon points="2951,637.6 3053,637.6 3053,614.5 3100,661.25 3053,708 3053,685 2951,685" fill="#000"/><polygon points="1121.7,1309 1204.4,1309 1204.4,1367 1244.7,1367 1162.7,1423.3 1080.7,1367 1121.7,1367" fill="#ffbc04"/><polygon points="240.3,1917 322.9,1917 322.9,1975 363.8,1975 281.6,2032 199.4,1975 240.3,1975" fill="#ffbc04"/><g transform="translate(443,2199)"><polygon points="0,29 48.5,15 13,15" fill="#f2bc00"/><polygon points="1.5,1.5 47,15 13,15" fill="#fff8d0" stroke="#e6b400" stroke-width="2.6" stroke-linejoin="round"/></g><g transform="translate(443,2312)"><polygon points="0,29 48.5,15 13,15" fill="#f2bc00"/><polygon points="1.5,1.5 47,15 13,15" fill="#fff8d0" stroke="#e6b400" stroke-width="2.6" stroke-linejoin="round"/></g><g transform="translate(1475,2199)"><polygon points="0,29 48.5,15 13,15" fill="#f2bc00"/><polygon points="1.5,1.5 47,15 13,15" fill="#fff8d0" stroke="#e6b400" stroke-width="2.6" stroke-linejoin="round"/></g><g transform="translate(1475,2312)"><polygon points="0,29 48.5,15 13,15" fill="#f2bc00"/><polygon points="1.5,1.5 47,15 13,15" fill="#fff8d0" stroke="#e6b400" stroke-width="2.6" stroke-linejoin="round"/></g><g transform="translate(2358,2199)"><polygon points="0,29 48.5,15 13,15" fill="#f2bc00"/><polygon points="1.5,1.5 47,15 13,15" fill="#fff8d0" stroke="#e6b400" stroke-width="2.6" stroke-linejoin="round"/></g><g transform="translate(2358,2312)"><polygon points="0,29 48.5,15 13,15" fill="#f2bc00"/><polygon points="1.5,1.5 47,15 13,15" fill="#fff8d0" stroke="#e6b400" stroke-width="2.6" stroke-linejoin="round"/></g></svg>
</body></html>
